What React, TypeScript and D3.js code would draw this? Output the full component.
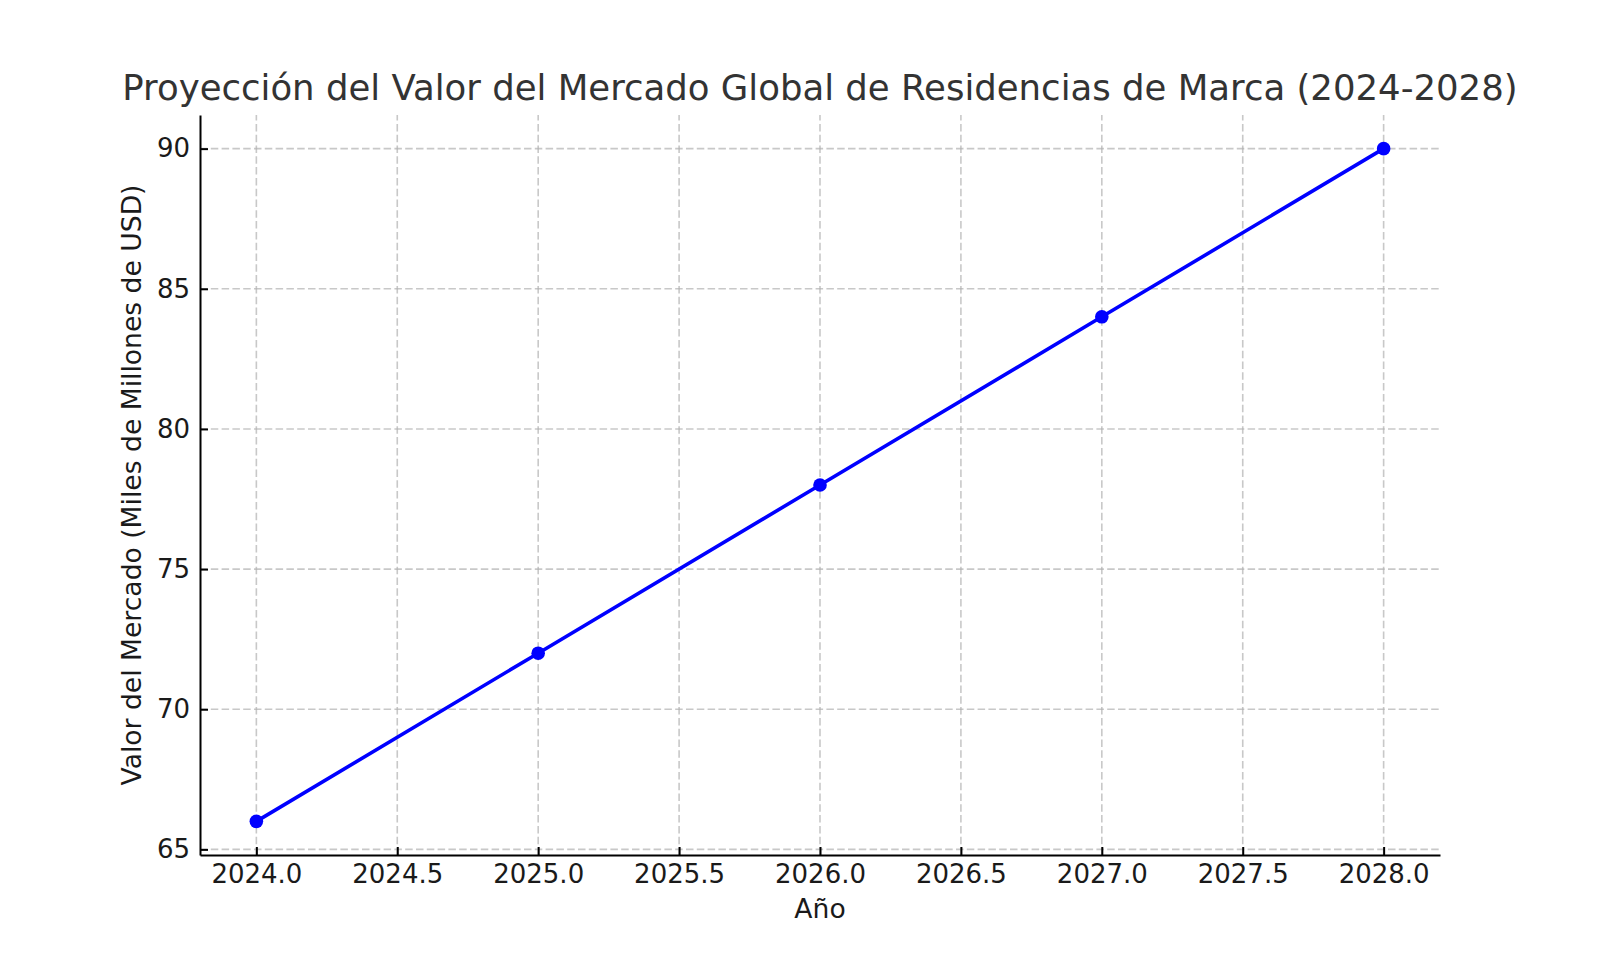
import React, { useEffect, useRef } from 'react';
import * as d3 from 'd3';

const years = [2024, 2025, 2026, 2027, 2028];
const marketValues = [66, 72, 78, 84, 90];
const xTicks = [2024, 2024.5, 2025, 2025.5, 2026, 2026.5, 2027, 2027.5, 2028];
const yTicks = [65, 70, 75, 80, 85, 90];

const title = 'Proyección del Valor del Mercado Global de Residencias de Marca (2024-2028)';
const xLabel = 'Año';
const yLabel = 'Valor del Mercado (Miles de Millones de USD)';

const WIDTH = 1600;
const HEIGHT = 960;
const margin = { top: 115, right: 160, bottom: 105, left: 200 };
const FONT = '"DejaVu Sans", Verdana, sans-serif';

const App: React.FC = () => {
  const svgRef = useRef<SVGSVGElement>(null);

  useEffect(() => {
    if (!svgRef.current) return;
    const svg = d3.select(svgRef.current).html('');

    const x0 = margin.left;
    const x1 = WIDTH - margin.right;
    const y0 = HEIGHT - margin.bottom;
    const y1 = margin.top;

    // matplotlib-like 5% margins around the data
    const xPad = (d3.max(years)! - d3.min(years)!) * 0.05;
    const yPad = (d3.max(marketValues)! - d3.min(marketValues)!) * 0.05;

    const x = d3.scaleLinear()
      .domain([d3.min(years)! - xPad, d3.max(years)! + xPad])
      .range([x0, x1]);
    const y = d3.scaleLinear()
      .domain([d3.min(marketValues)! - yPad, d3.max(marketValues)! + yPad])
      .range([y0, y1]);

    // grid
    const grid = svg.append('g')
      .attr('stroke', '#b0b0b0')
      .attr('stroke-opacity', 0.7)
      .attr('stroke-width', 1.6)
      .attr('stroke-dasharray', '7.5,3.3');
    grid.selectAll('line.vx')
      .data(xTicks)
      .enter()
      .append('line')
      .attr('x1', d => x(d)).attr('x2', d => x(d))
      .attr('y1', y0).attr('y2', y1);
    grid.selectAll('line.hy')
      .data(yTicks)
      .enter()
      .append('line')
      .attr('y1', d => y(d)).attr('y2', d => y(d))
      .attr('x1', x0).attr('x2', x1);

    // x axis (ticks point inward)
    const xAxis = d3.axisBottom(x)
      .tickValues(xTicks)
      .tickFormat(d => (d as number).toFixed(1))
      .tickSizeInner(-8)
      .tickSizeOuter(0)
      .tickPadding(10);
    const gx = svg.append('g').attr('transform', `translate(0,${y0})`).call(xAxis);
    gx.select('.domain').attr('stroke', '#000').attr('stroke-width', 2);
    gx.selectAll('.tick line').attr('stroke', '#000').attr('stroke-width', 2);
    gx.selectAll('.tick text')
      .attr('font-family', FONT)
      .attr('font-size', 26)
      .attr('fill', '#1a1a1a');

    const yAxis = d3.axisLeft(y)
      .tickValues(yTicks)
      .tickFormat(d => String(d))
      .tickSizeInner(-8)
      .tickSizeOuter(0)
      .tickPadding(10);
    const gy = svg.append('g').attr('transform', `translate(${x0},0)`).call(yAxis);
    gy.select('.domain').attr('stroke', '#000').attr('stroke-width', 2);
    gy.selectAll('.tick line').attr('stroke', '#000').attr('stroke-width', 2);
    gy.selectAll('.tick text')
      .attr('font-family', FONT)
      .attr('font-size', 26)
      .attr('fill', '#1a1a1a');

    // series
    const data = years.map((yr, i) => ({ yr, v: marketValues[i] }));
    const line = d3.line<typeof data[0]>()
      .x(d => x(d.yr))
      .y(d => y(d.v));
    svg.append('path')
      .datum(data)
      .attr('d', line)
      .attr('fill', 'none')
      .attr('stroke', '#0000ff')
      .attr('stroke-width', 3.6);
    svg.selectAll('circle.pt')
      .data(data)
      .enter()
      .append('circle')
      .attr('cx', d => x(d.yr))
      .attr('cy', d => y(d.v))
      .attr('r', 6.8)
      .attr('fill', '#0000ff');

    // labels
    svg.append('text')
      .attr('x', (x0 + x1) / 2)
      .attr('y', 100)
      .attr('text-anchor', 'middle')
      .attr('font-family', FONT)
      .attr('font-size', 35.5)
      .attr('fill', '#333')
      .text(title);

    svg.append('text')
      .attr('x', (x0 + x1) / 2)
      .attr('y', 918)
      .attr('text-anchor', 'middle')
      .attr('font-family', FONT)
      .attr('font-size', 26.6)
      .attr('fill', '#1a1a1a')
      .text(xLabel);

    svg.append('text')
      .attr('transform', `translate(141,${(y0 + y1) / 2}) rotate(-90)`)
      .attr('text-anchor', 'middle')
      .attr('font-family', FONT)
      .attr('font-size', 26.6)
      .attr('fill', '#1a1a1a')
      .text(yLabel);
  }, []);

  return (
    <div style={{ position: 'absolute', top: 0, left: 0, background: '#fff' }}>
      <svg ref={svgRef} width={WIDTH} height={HEIGHT} style={{ display: 'block' }}></svg>
    </div>
  );
};

export default App;
